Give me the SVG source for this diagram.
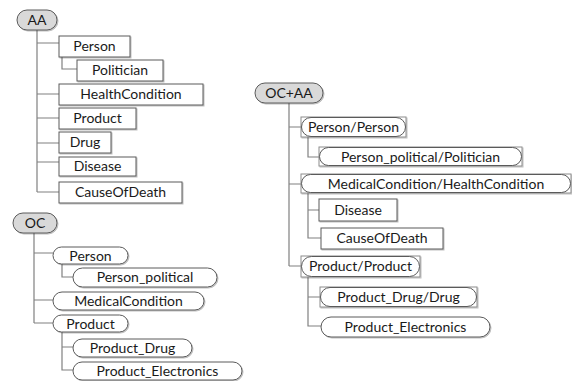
<svg xmlns="http://www.w3.org/2000/svg" width="572" height="381" viewBox="0 0 572 381">
<defs>
<filter id="sh" x="-5%" y="-10%" width="115%" height="140%">
<feDropShadow dx="1" dy="1" stdDeviation="0.6" flood-color="#000" flood-opacity="0.25"/>
</filter>
<style>
text{font-family:Lato,"Liberation Sans",Arial,sans-serif;font-size:14px;fill:#1a1a1a;text-anchor:middle}
.box{fill:#fff;stroke:#5a5a5a;stroke-width:1;filter:url(#sh)}
.root{fill:#d9d9d9;stroke:#5a5a5a;stroke-width:1;filter:url(#sh)}
.outer{fill:#fff;stroke:#8c8c8c;stroke-width:1;filter:url(#sh)}
.inner{fill:none;stroke:#5a5a5a;stroke-width:1}
.c{fill:none;stroke:#808080;stroke-width:1.2}
</style>
</defs>
<g id="connectors">
<path class="c" d="M37 30V192M37 43H59M37 94H59M37 118H59M37 143H59M37 162H59M37 192H59M62 57V69H77"/>
<path class="c" d="M34 233V323M34 253H53M34 300H53M34 323H53M62 264V277H73M62 332V370H73M62 347H73"/>
<path class="c" d="M289 103V266M289 127H301M289 184H301M289 266H301M308 137V157H319M308 193V238H321M308 210H319M308 277V326H321M308 297H320"/>
</g>
<g id="AA"><rect class="root" x="17" y="10" width="40" height="20" rx="10"/><text x="37" y="25">AA</text></g>
<g id="AA-Person"><rect class="box" x="59" y="36" width="71" height="21"/><text x="94.5" y="51">Person</text></g>
<g id="AA-Politician"><rect class="box" x="77" y="60" width="86" height="21"/><text x="120" y="75">Politician</text></g>
<g id="AA-HealthCondition"><rect class="box" x="59" y="84" width="144" height="21"/><text x="131" y="99">HealthCondition</text></g>
<g id="AA-Product"><rect class="box" x="59" y="108" width="77" height="21"/><text x="97.5" y="123">Product</text></g>
<g id="AA-Drug"><rect class="box" x="59" y="132" width="52" height="21"/><text x="85" y="147">Drug</text></g>
<g id="AA-Disease"><rect class="box" x="59" y="157" width="77" height="19"/><text x="97.5" y="171">Disease</text></g>
<g id="AA-CauseOfDeath"><rect class="box" x="59" y="182" width="123" height="21"/><text x="120.5" y="197">CauseOfDeath</text></g>

<g id="OC"><rect class="root" x="13" y="213" width="44" height="20" rx="10"/><text x="35" y="228">OC</text></g>
<g id="OC-Person"><rect class="box" x="53" y="247" width="75" height="17" rx="8.5"/><text x="90.5" y="260.5">Person</text></g>
<g id="OC-Person_political"><rect class="box" x="73" y="268" width="144" height="19" rx="9.5"/><text x="145" y="282">Person_political</text></g>
<g id="OC-MedicalCondition"><rect class="box" x="53" y="292" width="151" height="18" rx="9"/><text x="128.5" y="305.5">MedicalCondition</text></g>
<g id="OC-Product"><rect class="box" x="53" y="315" width="75" height="17" rx="8.5"/><text x="90.5" y="328.5">Product</text></g>
<g id="OC-Product_Drug"><rect class="box" x="73" y="339" width="119" height="18" rx="9"/><text x="132.5" y="352.5">Product_Drug</text></g>
<g id="OC-Product_Electronics"><rect class="box" x="73" y="362" width="169" height="18" rx="9"/><text x="157.5" y="375.5">Product_Electronics</text></g>

<g id="OCAA"><rect class="root" x="255" y="83" width="68" height="20" rx="10"/><text x="289" y="98">OC+AA</text></g>
<g id="OCAA-Person"><rect class="outer" x="301" y="117" width="105" height="20"/><rect class="inner" x="301.5" y="117.5" width="104" height="19" rx="9.5"/><text x="353.5" y="132">Person/Person</text></g>
<g id="OCAA-Person_political"><rect class="outer" x="319" y="147" width="203" height="19"/><rect class="inner" x="319.5" y="147.5" width="202" height="18" rx="9"/><text x="420.5" y="161.5">Person_political/Politician</text></g>
<g id="OCAA-MedicalCondition"><rect class="outer" x="301" y="174" width="270" height="19"/><rect class="inner" x="301.5" y="174.5" width="269" height="18" rx="9"/><text x="436" y="188.5">MedicalCondition/HealthCondition</text></g>
<g id="OCAA-Disease"><rect class="box" x="319" y="199" width="78" height="22"/><text x="358" y="214.5">Disease</text></g>
<g id="OCAA-CauseOfDeath"><rect class="box" x="321" y="228" width="122" height="21"/><text x="382" y="243">CauseOfDeath</text></g>
<g id="OCAA-Product"><rect class="outer" x="301" y="256" width="119" height="21"/><rect class="inner" x="301.5" y="256.5" width="118" height="20" rx="10"/><text x="360.5" y="271">Product/Product</text></g>
<g id="OCAA-Product_Drug"><rect class="outer" x="320" y="287" width="157" height="20"/><rect class="inner" x="320.5" y="287.5" width="156" height="19" rx="9.5"/><text x="398.5" y="302">Product_Drug/Drug</text></g>
<g id="OCAA-Product_Electronics"><rect class="box" x="321" y="317" width="169" height="20" rx="10"/><text x="405.5" y="331.5">Product_Electronics</text></g>
</svg>
